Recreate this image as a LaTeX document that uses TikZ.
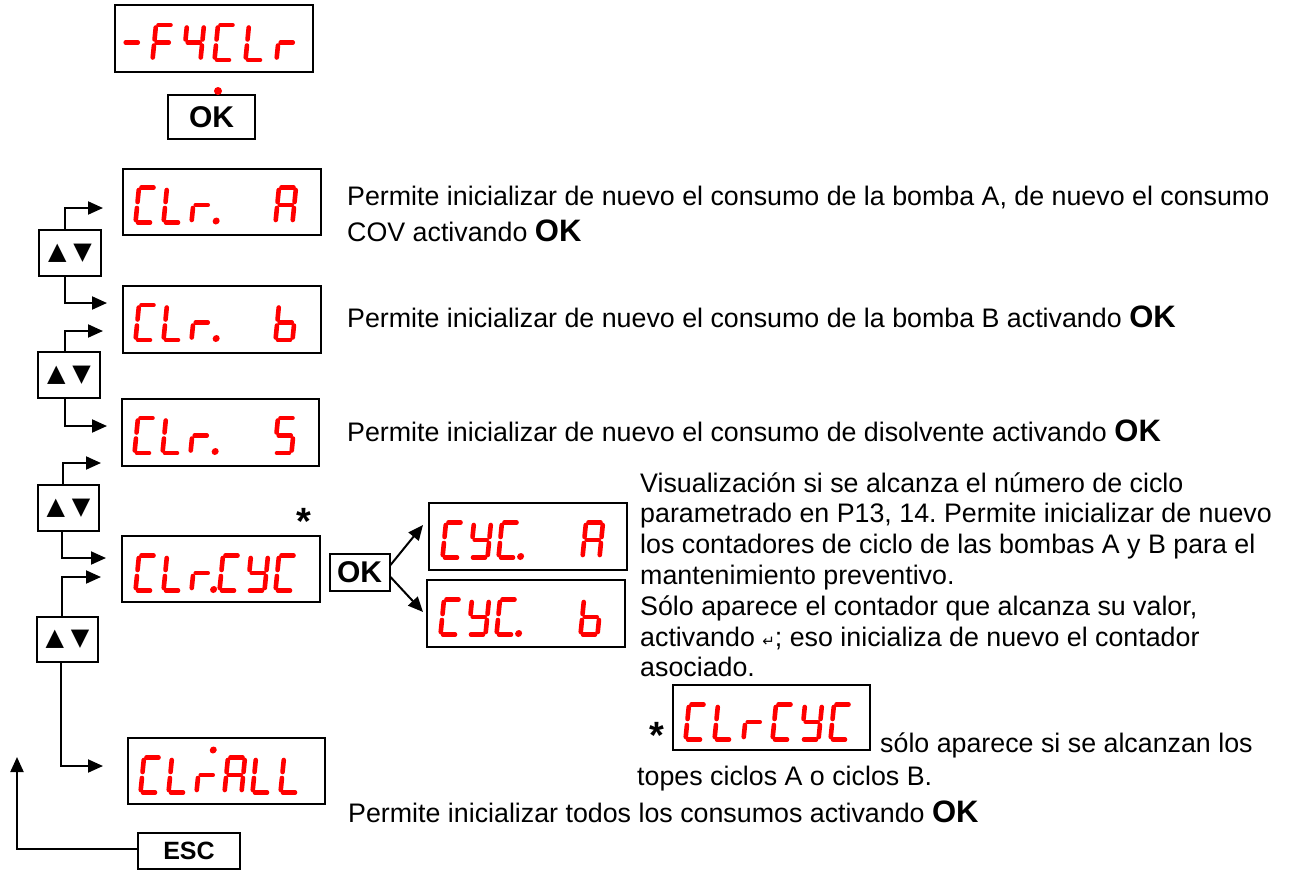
\documentclass[tikz,border=0pt]{standalone}
\usepackage{fontspec}
\setmainfont{Liberation Sans}
\newfontfamily\dejavu{DejaVu Sans}
\usetikzlibrary{arrows.meta,calc}
\frenchspacing

\newcommand\sevseg[3]{%
  \begin{scope}[shift={(#1,#2)},xslant=0.1]
    \foreach \s in #3 {%
      \if a\s \draw[seg] (2.5,-35)--(14.5,-35);\fi
      \if b\s \draw[seg] (17,-32.5)--(17,-20.5);\fi
      \if c\s \draw[seg] (17,-14.5)--(17,-2.5);\fi
      \if d\s \draw[seg] (2.5,0)--(14.5,0);\fi
      \if e\s \draw[seg] (0,-14.5)--(0,-2.5);\fi
      \if f\s \draw[seg] (0,-32.5)--(0,-20.5);\fi
      \if g\s \draw[seg] (2.5,-17.5)--(14.5,-17.5);\fi
      \if p\s \fill[red] (24.5,-1.5) circle (3.5pt);\fi
      \if q\s \fill[red] (22,-1) circle (3.5pt);\fi
      \if u\s \fill[red] (12.5,-42.5) circle (3.5pt);\fi
    }
  \end{scope}}
\newcommand\segrow[4]{%
  \foreach \cs [count=\i from 0] in {#4}{\sevseg{#1+\i*#3}{#2}{\cs}}}

\begin{document}
\begin{tikzpicture}[x=1pt,y=-1pt,
  box/.style={draw, line width=2pt, inner sep=0pt},
  disp/.style={box, minimum width=198pt, minimum height=66pt},
  btn/.style={box, font=\fontsize{30}{30}\selectfont\bfseries},
  udbox/.style={box, minimum width=62pt, minimum height=46pt, font=\dejavu\fontsize{24}{24}\selectfont},
  arr/.style={line width=2pt, -{Triangle[length=15pt,width=13pt]}},
  txt/.style={anchor=base west, inner sep=0pt, font=\fontsize{26.8}{33}\selectfont},
  seg/.style={draw=red, line width=4.6pt, line cap=round},
  star/.style={inner sep=0pt, font=\fontsize{38}{38}\selectfont\bfseries}]

\useasboundingbox (0,0) rectangle (1290,870);

% top display and OK
\node[disp, minimum height=67pt] (top) at (214,38.5) {};
\node[btn, minimum width=87pt, minimum height=44pt] (ok1) at (211.5,117) {OK};
\fill[red] (218,91) circle (4pt);

% displays
\node[disp] (dA) at (222,202) {};
\node[disp, minimum height=67pt] (dB) at (222,319.5) {};
\node[disp, minimum width=197pt, minimum height=67pt] (dS) at (220.5,432.5) {};
\node[disp] (dC) at (221,569) {};
\node[disp, minimum width=197pt] (dL) at (226.5,771) {};
\node[disp, minimum height=67pt] (cA) at (528,536.5) {};
\node[disp, minimum height=67pt] (cB) at (526,613.5) {};
\node[disp, minimum width=197pt, minimum height=65pt] (sm) at (771.5,717.5) {};

% seven segment characters
\segrow{121.5}{60}{31}{{g},{a,e,f,g},{b,c,f,g},{a,d,e,f},{d,e,f},{e,g}}
\segrow{135.5}{222.5}{28}{{a,d,e,f},{d,e,f},{e,g,p},{n},{n},{a,b,c,e,f,g}}
\segrow{135.5}{340}{28}{{a,d,e,f},{d,e,f},{e,g,p},{n},{n},{c,d,e,f,g}}
\segrow{134.5}{453}{28}{{a,d,e,f},{d,e,f},{e,g,p},{n},{n},{a,c,d,f,g}}
\segrow{135.5}{590.5}{28}{{a,d,e,f},{d,e,f},{e,g,q},{a,d,e,f},{b,c,d,f,g},{a,d,e,f}}
\segrow{140.5}{792.5}{28}{{a,d,e,f},{d,e,f},{e,g,u},{a,b,c,e,f,g},{d,e,f},{d,e,f}}
\segrow{442.5}{557.5}{28}{{a,d,e,f},{b,c,d,f,g},{a,d,e,f,q},{n},{n},{a,b,c,e,f,g}}
\segrow{440.5}{634.5}{28}{{a,d,e,f},{b,c,d,f,g},{a,d,e,f,q},{n},{n},{c,d,e,f,g}}
\segrow{685.5}{739.5}{29}{{a,d,e,f},{d,e,f},{e,g},{a,d,e,f},{b,c,d,f,g},{a,d,e,f}}

% stars
\node[star] (s1) at (304,521) {*};
\node[star] (s2) at (657,735) {*};

% up/down boxes
\node[udbox] (ud1) at (70,253) {▲\hspace{7pt}▼};
\node[udbox] (ud2) at (69,375) {▲\hspace{7pt}▼};
\node[udbox, minimum width=61pt] (ud3) at (68.5,508) {▲\hspace{7pt}▼};
\node[udbox, minimum width=61pt, minimum height=45pt] (ud4) at (67.5,639.5) {▲\hspace{7pt}▼};

\coordinate (t1u) at (103,208);
\coordinate (t1d) at (107,303);
\coordinate (t2u) at (103,331);
\coordinate (t2d) at (107,426);
\coordinate (t3u) at (101,463);
\coordinate (t3d) at (106,558);
\coordinate (t4u) at (101,577);
\coordinate (t4d) at (103,766);

\draw[arr] ([xshift=-5pt]ud1.north) |- (t1u);
\draw[arr] ([xshift=-5pt]ud1.south) |- (t1d);
\draw[arr] ([xshift=-4pt]ud2.north) |- (t2u);
\draw[arr] ([xshift=-4pt]ud2.south) |- (t2d);
\draw[arr] ([xshift=-5.5pt]ud3.north) |- (t3u);
\draw[arr] ([xshift=-6.5pt]ud3.south) |- (t3d);
\draw[arr] ([xshift=-5.5pt]ud4.north) |- (t4u);
\draw[arr] ([xshift=-6.5pt]ud4.south) |- (t4d);

% ESC
\node[btn, font=\fontsize{25}{25}\selectfont\bfseries, minimum width=102pt, minimum height=36pt] (esc) at (189,851) {ESC};
\coordinate (escT) at (17,757);
\draw[arr] ([yshift=2pt]esc.west) -| (escT);

% OK to CYC
\node[btn, minimum width=60pt, minimum height=37pt] (ok2) at (359.5,572.5) {OK};
\coordinate (tcA) at (423,525);
\coordinate (tcB) at (423,612);
\draw[arr] ([yshift=7.5pt]ok2.east) -- (tcA);
\draw[arr] ([yshift=-4.5pt]ok2.east) -- (tcB);

% texts
\node[txt] (l1a) at (347,205) {Permite inicializar de nuevo el consumo de la bomba A, de nuevo el consumo};
\node[txt] (l1b) at (347,241) {COV activando {\fontsize{31}{31}\selectfont\bfseries OK}};
\node[txt] (l2) at (347,327) {Permite inicializar de nuevo el consumo de la bomba B activando {\fontsize{31}{31}\selectfont\bfseries OK}};
\node[txt] (l3) at (347,441) {Permite inicializar de nuevo el consumo de disolvente activando {\fontsize{31}{31}\selectfont\bfseries OK}};

\node[txt] (r1) at (640,492) {Visualización si se alcanza el número de ciclo};
\node[txt] (r2) at (640,522.8) {parametrado en P13, 14. Permite inicializar de nuevo};
\node[txt] (r3) at (640,553.6) {los contadores de ciclo de las bombas A y B para el};
\node[txt] (r4) at (640,584.4) {mantenimiento preventivo.};
\node[txt] (r5) at (640,615.2) {Sólo aparece el contador que alcanza su valor,};
\node[txt] (r6) at (640,646) {activando {\dejavu\fontsize{15}{15}\selectfont ↵}; eso inicializa de nuevo el contador};
\node[txt] (r7) at (640,676.8) {asociado.};

\node[txt] (n1) at (880,752) {sólo aparece si se alcanzan los};
\node[txt] (n2) at (637,785) {topes ciclos A o ciclos B.};
\node[txt] (l4) at (348,822) {Permite inicializar todos los consumos activando {\fontsize{31}{31}\selectfont\bfseries OK}};
\end{tikzpicture}
\end{document}
